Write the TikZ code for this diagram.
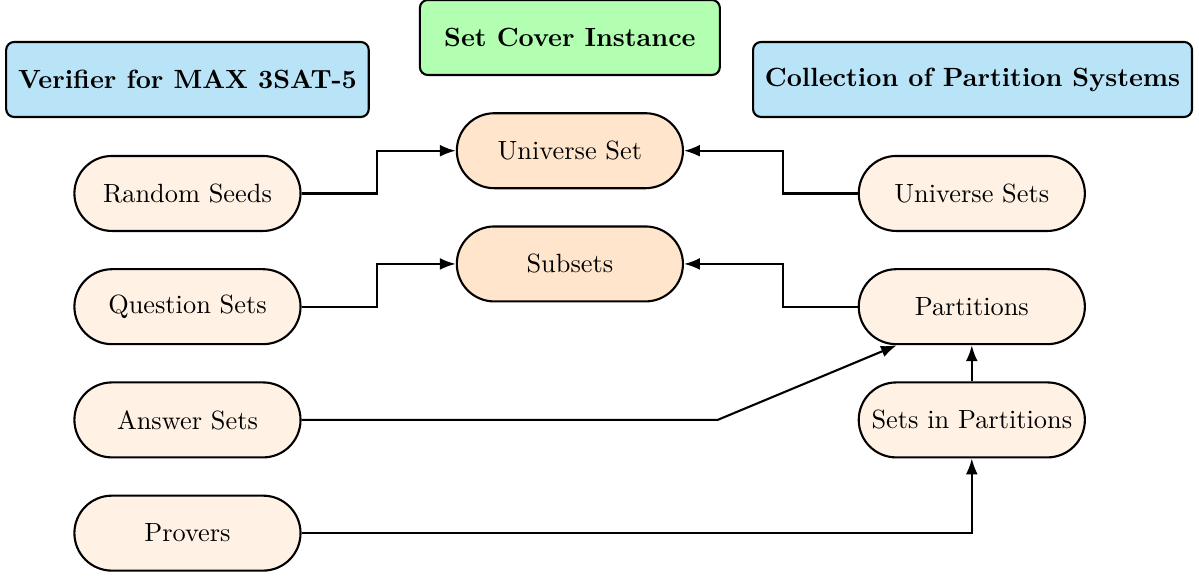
\documentclass[tikz,border=0pt]{standalone}
\usepackage{tikz}
\usetikzlibrary{
  shapes.misc
  , calc
  , arrows.meta
}
\definecolor{headblue}{RGB}{185,228,248}

\begin{document}
\begin{tikzpicture}[thick,
    header/.style={draw=black, rounded corners=3pt,
      minimum height=1cm, inner xsep=4.5pt, font=\bfseries},
    part/.style={rounded rectangle, draw=black, fill=orange!10,
      minimum width=3.25cm, minimum height=1cm},
    goal/.style={part, fill=orange!20},
    link/.style={-{Latex[length=6pt,width=4.5pt]}}]
      \useasboundingbox (0,0) rectangle (15.99,-7.71);

      % headers
      \node [header, fill=headblue] (ver) at (2.5,-1.06) {Verifier for MAX 3SAT-5};
      \node [header, fill=green!30, minimum width=4cm] (sc) at (7.6,-0.5) {Set Cover Instance};
      \node [header, fill=headblue] (coll) at (12.97,-1.06) {Collection of Partition Systems};

      % set cover parts
      \node [goal] (us) at (7.6,-2.01) {Universe Set};
      \node [goal] (sub) at (7.6,-3.52) {Subsets};

      % verifier parts
      \node [part] (rs) at (2.5,-2.58) {Random Seeds};
      \node [part] (qs) at (2.5,-4.09) {Question Sets};
      \node [part] (as) at (2.5,-5.6) {Answer Sets};
      \node [part] (pv) at (2.5,-7.11) {Provers};

      % partition system parts
      \node [part] (uss) at (12.96,-2.58) {Universe Sets};
      \node [part] (pt) at (12.96,-4.09) {Partitions};
      \node [part] (sp) at (12.96,-5.6) {Sets in Partitions};

      \draw [link] (rs.east) -- ++(1,0) |- (us.west);
      \draw [link] (qs.east) -- ++(1,0) |- (sub.west);
      \draw [link] (uss.west) -- ++(-1,0) |- (us.east);
      \draw [link] (pt.west) -- ++(-1,0) |- (sub.east);

      \coordinate (bend) at (9.57,-5.6);
      \draw [link] (as.east) -- (bend) -- ([xshift=-1cm]pt.south);
      \draw [link] (sp.north) -- (pt.south);
      \draw [link] (pv.east) -| (sp.south);

    \end{tikzpicture}
\end{document}
